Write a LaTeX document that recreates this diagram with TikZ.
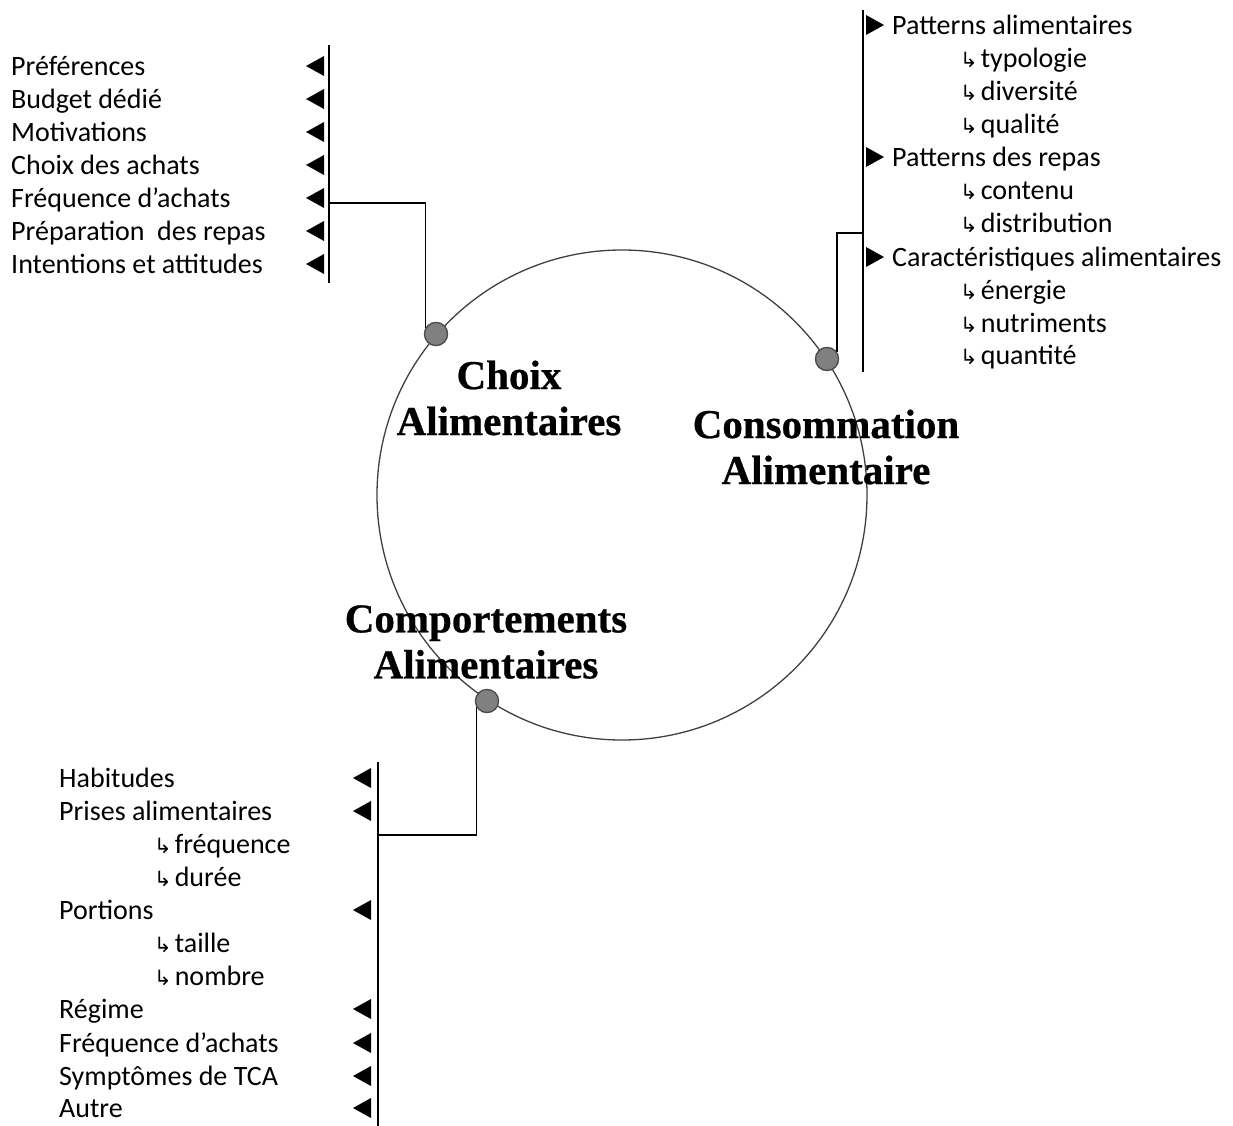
\documentclass[tikz,border=0pt]{standalone}
\usepackage{fontspec}
\setmainfont{Carlito}
\newfontfamily\headfont{Liberation Serif}[BoldFeatures={FakeBold=0.6}]
\newfontfamily\arrowfont{DejaVu Sans}
\newcommand\subarrow{{\arrowfont\fontsize{21}{21}\selectfont ↳}\hspace{3pt}}
\begin{document}
\begin{tikzpicture}[x=1pt,y=-1pt,
  item/.style={anchor=mid west, inner sep=0pt, yshift=-7.5pt, font=\fontsize{28}{28}\selectfont},
  heading/.style={align=center, inner sep=0pt, font=\headfont\bfseries\fontsize{41}{46}\selectfont},
  ring/.style={draw=black!75, line width=1.3pt},
  wire/.style={draw=black, line width=1.5pt},
  dot/.style={circle, minimum size=23pt, inner sep=0pt, fill=black!50, draw=black!70, line width=1.2pt},
  tri left/.pic={\fill (0,-10) -- (0,10) -- (-18,0) -- cycle;},
  tri right/.pic={\fill (0,-10) -- (0,10) -- (18,0) -- cycle;}]
\useasboundingbox (0,0) rectangle (1233,1126);

% central circle and its three topic labels
\node[circle, ring, minimum size=490pt, inner sep=0pt] (ring) at (622,495) {};
\node[heading] (choix) at (509,398) {Choix\\Alimentaires};
\node[heading] (conso) at (826,447) {Consommation\\Alimentaire};
\node[heading] (compo) at (486,642) {Comportements\\Alimentaires};

% left list: choix alimentaires
\coordinate (lt) at (329,45);
\coordinate (lb) at (329,283);
\coordinate (lj) at (329,203);
\draw[wire] (lt) -- (lb);
\foreach \y/\t in {66/Préférences, 99/Budget dédié, 132/Motivations,
                   165/Choix des achats, 198/Fréquence d’achats,
                   231/Préparation\ \ des repas, 264/Intentions et attitudes}{
  \node[item] (l-\y) at (11,\y) {\t};
  \pic at (324,\y) {tri left};
}

% right list: consommation alimentaire
\coordinate (rt) at (863,10);
\coordinate (rb) at (863,372);
\coordinate (rj) at (863,233);
\draw[wire] (rt) -- (rb);
\foreach \y/\t in {25/Patterns\ alimentaires, 157/Patterns\ des repas,
                   257/Caractéristiques\ alimentaires}{
  \node[item] (r-\y) at (892,\y) {\t};
  \pic at (866,\y) {tri right};
}
\foreach \y/\t in {58/typologie, 91/diversité, 124/qualité, 190/contenu,
                   223/distribution, 290/énergie, 323/nutriments, 355/quantité}{
  \node[item] (rs-\y) at (960,\y) {\subarrow\t};
}

% bottom list: comportements alimentaires
\coordinate (bt) at (378,762);
\coordinate (bb) at (378,1126);
\coordinate (bj) at (378,835);
\draw[wire] (bt) -- (bb);
\foreach \y/\t in {778/Habitudes, 811/Prises alimentaires, 910/Portions,
                   1009/Régime, 1043/Fréquence d’achats,
                   1076/Symptômes de TCA, 1108/Autre}{
  \node[item] (b-\y) at (59,\y) {\t};
  \pic at (371,\y) {tri left};
}
\foreach \y/\t in {844/fréquence, 877/durée, 943/taille, 976/nombre}{
  \node[item] (bs-\y) at (154,\y) {\subarrow\t};
}

% connectors from the lists to the anchor dots on the circle
\node[dot] (d1) at (436,334) {};
\node[dot] (d2) at (827,359) {};
\node[dot] (d3) at (487,701) {};
\draw[wire] (lj) -| (d1.150);
\draw[wire] (rj) -| (d2.35);
\draw[wire] (bj) -| (d3.210);
\node[dot] at (d1) {};
\node[dot] at (d2) {};
\node[dot] at (d3) {};
\end{tikzpicture}
\end{document}
